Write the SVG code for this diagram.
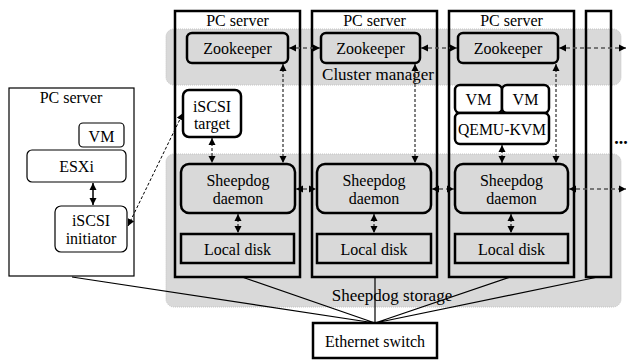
<svg xmlns="http://www.w3.org/2000/svg" width="628" height="360" viewBox="0 0 628 360">
<style>
text{font-family:"Liberation Serif","Times New Roman",Times,Tinos,"Noto Serif","DejaVu Serif","FreeSerif",serif;font-size:16px;fill:#000;text-anchor:middle}
.band{fill:#d9d9d9;stroke:#c4c4c4;stroke-width:1;stroke-dasharray:1 1}
.srv{fill:none;stroke:#000;stroke-width:2.5}
.box{fill:#d9d9d9;stroke:#000;stroke-width:2.5}
.wbox{fill:#fff;stroke:#000;stroke-width:2.5}
.thin{fill:#fff;stroke:#000;stroke-width:1.2}
.lk{stroke:#000;stroke-width:1.2;fill:none}
.hd{stroke:#555;stroke-width:1.6;stroke-dasharray:4 3;fill:none}
.vd{stroke:#000;stroke-width:1;stroke-dasharray:3 2;fill:none}
.lbl{font-size:17px}
</style>
<defs>
<marker id="a" markerUnits="userSpaceOnUse" markerWidth="8" markerHeight="8" refX="7" refY="4" orient="auto-start-reverse">
<path d="M0,0.5 L7,4 L0,7.5 z" fill="#000"/>
</marker>
</defs>
<g id="cluster-manager">
<rect class="band" x="166" y="29" width="455" height="56" rx="8"/>
</g>
<g id="sheepdog-storage">
<rect class="band" x="166" y="154" width="455" height="153" rx="8"/>
</g>
<g id="switch-links">
<path class="lk" d="M72,277 L375,323 M242,277 L375,323 M375,277 L375,323 M510,277 L375,323 M598,277 L375,323"/>
</g>
<text class="lbl" x="378" y="80">Cluster manager</text>
<text class="lbl" x="392" y="301">Sheepdog storage</text>
<g id="pc-left">
<rect class="thin" x="9" y="88" width="125" height="188"/>
<text x="71" y="103">PC server</text>
</g>
<g id="vm-left">
<rect class="thin" x="79" y="123" width="45" height="24" rx="4"/>
<text x="101.5" y="142">VM</text>
</g>
<g id="esxi">
<rect class="thin" x="27" y="150" width="99" height="32" rx="5"/>
<text x="76.5" y="172">ESXi</text>
</g>
<g id="iscsi-initiator">
<rect class="thin" x="55" y="206" width="72" height="46" rx="6"/>
<text x="91" y="226">iSCSI</text>
<text x="91" y="244">initiator</text>
</g>
<g id="pc1">
<rect class="srv" x="175" y="11" width="125" height="266"/>
<text x="237.5" y="26">PC server</text>
</g>
<g id="pc2">
<rect class="srv" x="312" y="11" width="125" height="266"/>
<text x="374.5" y="26">PC server</text>
</g>
<g id="pc3">
<rect class="srv" x="449" y="11" width="125" height="266"/>
<text x="511.5" y="26">PC server</text>
</g>
<g id="pc4">
<rect class="srv" x="586" y="11" width="25" height="266"/>
</g>
<g id="zk1">
<rect class="box" x="187" y="33" width="101" height="30" rx="5"/>
<text x="237.5" y="54">Zookeeper</text>
</g>
<g id="zk2">
<rect class="box" x="321" y="33" width="99" height="30" rx="5"/>
<text x="370.5" y="54">Zookeeper</text>
</g>
<g id="zk3">
<rect class="box" x="458" y="33" width="100" height="30" rx="5"/>
<text x="508" y="54">Zookeeper</text>
</g>
<g id="iscsi-target">
<rect class="wbox" x="183" y="90" width="58" height="47" rx="6"/>
<text x="212" y="112">iSCSI</text>
<text x="212" y="129">target</text>
</g>
<g id="vm1">
<rect class="wbox" x="455" y="85" width="47" height="28" rx="5"/>
<text x="478.5" y="105">VM</text>
</g>
<g id="vm2">
<rect class="wbox" x="502" y="85" width="47" height="28" rx="5"/>
<text x="525.5" y="105">VM</text>
</g>
<g id="qemu">
<rect class="wbox" x="455" y="113" width="94" height="31" rx="5"/>
<text x="502" y="135" textLength="88" lengthAdjust="spacingAndGlyphs">QEMU-KVM</text>
</g>
<g id="sd1">
<rect class="box" x="181" y="164" width="114" height="49" rx="8"/>
<text x="238" y="186">Sheepdog</text>
<text x="238" y="204">daemon</text>
</g>
<g id="sd2">
<rect class="box" x="317" y="164" width="114" height="49" rx="8"/>
<text x="374" y="186">Sheepdog</text>
<text x="374" y="204">daemon</text>
</g>
<g id="sd3">
<rect class="box" x="455" y="164" width="113" height="49" rx="8"/>
<text x="511.5" y="186">Sheepdog</text>
<text x="511.5" y="204">daemon</text>
</g>
<g id="ld1">
<rect class="box" x="181" y="234" width="113" height="29"/>
<text x="237.5" y="255">Local disk</text>
</g>
<g id="ld2">
<rect class="box" x="317" y="234" width="114" height="29"/>
<text x="374" y="255">Local disk</text>
</g>
<g id="ld3">
<rect class="box" x="455" y="234" width="113" height="29"/>
<text x="511.5" y="255">Local disk</text>
</g>
<g id="ethernet-switch">
<rect class="srv" x="313" y="323" width="124" height="35"/>
<text x="375" y="347">Ethernet switch</text>
</g>
<text x="621" y="144" style="font-size:18px;font-weight:bold">...</text>
<g id="connectors">
<path class="hd" d="M289,48 L320,48" marker-start="url(#a)" marker-end="url(#a)"/>
<path class="hd" d="M421,48 L457,48" marker-start="url(#a)" marker-end="url(#a)"/>
<path class="hd" d="M559,48 L626,48" marker-start="url(#a)" marker-end="url(#a)"/>
<path class="hd" d="M296,189 L316,189" marker-start="url(#a)" marker-end="url(#a)"/>
<path class="hd" d="M432,189 L454,189" marker-start="url(#a)" marker-end="url(#a)"/>
<path class="hd" d="M569,189 L626,189" marker-start="url(#a)" marker-end="url(#a)"/>
<path class="vd" d="M283,64 L283,163" marker-start="url(#a)" marker-end="url(#a)"/>
<path class="vd" d="M415,64 L415,163" marker-start="url(#a)" marker-end="url(#a)"/>
<path class="vd" d="M556,64 L556,163" marker-start="url(#a)" marker-end="url(#a)"/>
<path class="vd" d="M212,138 L212,163" marker-start="url(#a)" marker-end="url(#a)"/>
<path class="vd" d="M502,145 L502,163" marker-start="url(#a)" marker-end="url(#a)"/>
<path class="vd" d="M238,214 L238,233" marker-start="url(#a)" marker-end="url(#a)"/>
<path class="vd" d="M374,214 L374,233" marker-start="url(#a)" marker-end="url(#a)"/>
<path class="vd" d="M511,214 L511,233" marker-start="url(#a)" marker-end="url(#a)"/>
<path class="lk" style="stroke-width:1.5" d="M93,183 L93,205" marker-start="url(#a)" marker-end="url(#a)"/>
<path class="vd" d="M128,226 L183,113" marker-start="url(#a)" marker-end="url(#a)"/>
</g>
</svg>
